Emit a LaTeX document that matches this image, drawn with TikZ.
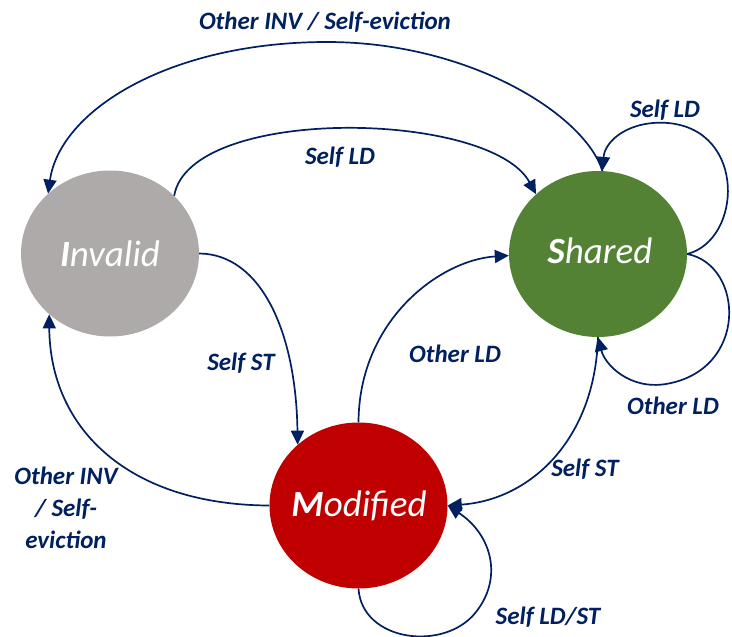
\documentclass[tikz,border=0pt]{standalone}
\usepackage{fontspec}
\setmainfont{Carlito}
\usetikzlibrary{arrows.meta,shapes.geometric}
\definecolor{navy}{HTML}{002060}
\definecolor{invgray}{HTML}{AEAAAA}
\definecolor{shgreen}{HTML}{548235}
\definecolor{modred}{HTML}{C00000}
\begin{document}
\begin{tikzpicture}[x=1bp,y=-1bp,
 state/.style={ellipse, minimum width=178bp, minimum height=166bp, inner sep=0pt},
 stext/.style={text=white, font=\fontsize{37bp}{40bp}\selectfont\itshape, inner sep=0pt},
 arr/.style={draw=navy, line width=1.7bp, -{Triangle[length=14bp,width=13bp]}},
 lbl/.style={text=navy, font=\fontsize{25bp}{32bp}\selectfont\bfseries\itshape, inner sep=0pt}]
\useasboundingbox (0,0) rectangle (732,637);
\node[state, fill=invgray] (inv) at (110,253.5) {};
\node[state, fill=shgreen] (sh) at (598,254) {};
\node[state, fill=modred] (mod) at (358.5,505.5) {};
\node[stext] (tinv) at (110,254) {\textbf{I}nvalid};
\node[stext] (tsh) at (600,251) {\textbf{S}hared};
\node[stext] (tmod) at (359,506) {\textbf{M}odified};

% connectors
\draw[arr] (sh.87) .. controls (585,115) and (470,42) .. (327,42) .. controls (170,42) and (60,110) .. (inv.136);
\draw[arr] (inv.42) .. controls (190,105) and (490,110) .. (sh.136);
\draw[arr] (inv.0) .. controls (260,254) and (296,330) .. (mod.135);
\draw[arr] (mod.180) .. controls (130,505) and (50,430) .. (inv.225);
\draw[arr] (mod.90) .. controls (359,320) and (440,260) .. (sh.181);
\draw[arr] (sh.270) .. controls (595,440) and (530,500) .. (mod.0);
\draw[arr] (sh.0) .. controls (742,240) and (747,130) .. (668,123) .. controls (630,120) and (605,140) .. (sh.87);
\draw[arr] (sh.0) .. controls (744,265) and (749,370) .. (666,384) .. controls (630,390) and (605,365) .. (sh.270);
\draw[arr] (mod.270) .. controls (362,642) and (445,652) .. (476,612) .. controls (503,578) and (492,535) .. (mod.0);

% labels
\node[lbl] (l1) at (325,22) {Other INV / Self-eviction};
\node[lbl] (l2) at (340,157) {Self LD};
\node[lbl] (l3) at (665,110) {Self LD};
\node[lbl] (l4) at (241,363) {Self ST};
\node[lbl] (l5) at (455,354) {Other LD};
\node[lbl] (l6) at (673,406) {Other LD};
\node[lbl] (l7) at (585,469) {Self ST};
\node[lbl, align=center] (l8) at (66,508) {Other INV\\/ Self-\\eviction};
\node[lbl] (l9) at (548,617) {Self LD/ST};
\end{tikzpicture}
\end{document}
